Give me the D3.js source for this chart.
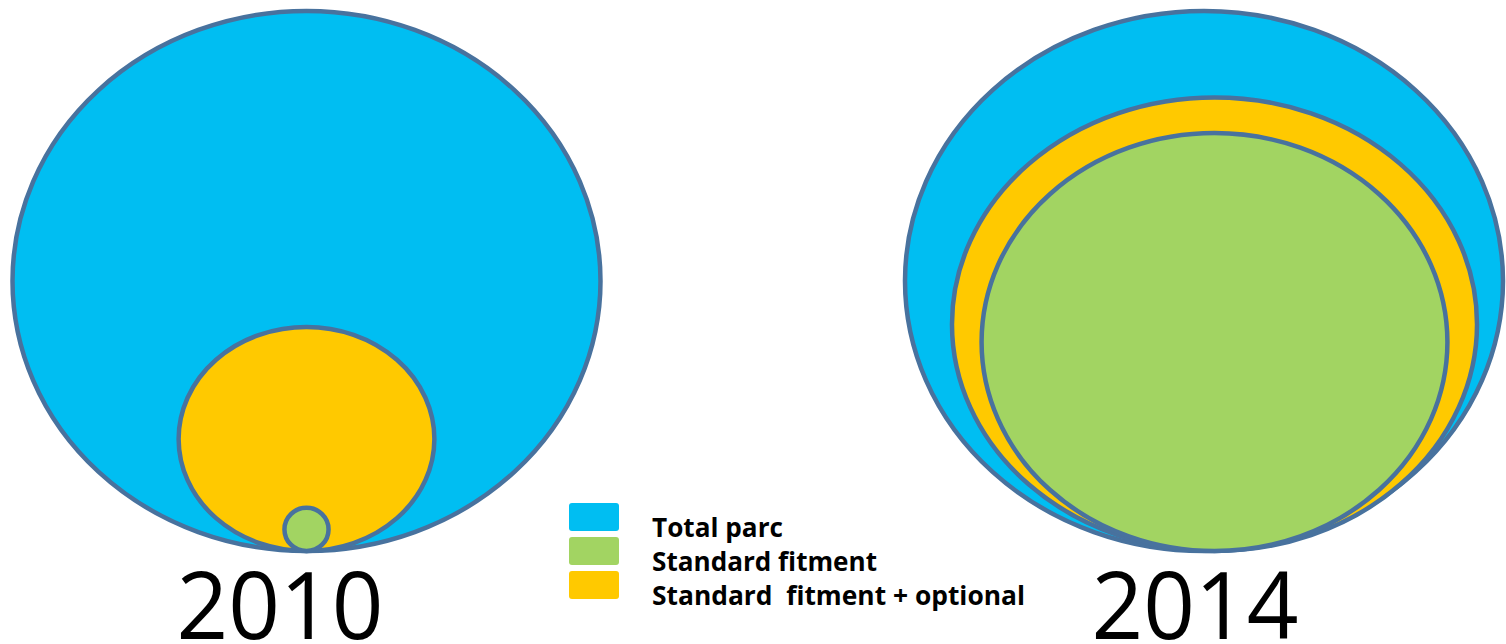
<!DOCTYPE html>
<html lang="en">
<head>
    <meta charset="UTF-8">
    <title>Total parc vs fitment, 2010 and 2014</title>
    <script src="https://d3js.org/d3.v7.min.js"></script>
    <style>
        body {
            margin: 0;
            padding: 0;
            background: #fff;
        }
        svg {
            display: block;
        }
        .year {
            font-family: "Open Sans", sans-serif;
            font-size: 94px;
            fill: #000;
        }
        .legend text {
            font-family: "Open Sans", sans-serif;
            font-weight: 700;
            font-size: 27px;
            fill: #000;
            white-space: pre;
        }
    </style>
</head>
<body>
    <svg width="1506" height="644"></svg>

    <script>
        // data: size of each group relative to the total parc ellipse (%)
        const years = ["2010", "2014"];
        const categories = ["Total parc", "Standard  fitment + optional", "Standard fitment"];
        const legendLabels = ["Total parc", "Standard fitment", "Standard  fitment + optional"];
        const widthShare2010 = [100, 43.5, 7.5];
        const heightShare2010 = [100, 41.5, 8.0];
        const widthShare2014 = [100, 87.8, 77.9];
        const heightShare2014 = [100, 84.0, 77.4];

        const widthShares = { "2010": widthShare2010, "2014": widthShare2014 };
        const heightShares = { "2010": heightShare2010, "2014": heightShare2014 };

        const colors = {
            "Total parc": "#00BEF2",
            "Standard fitment": "#A2D462",
            "Standard  fitment + optional": "#FFC900"
        };
        const strokeColor = "#48729E";

        // layout of each panel (pixels)
        const panels = {
            "2010": { cx: 306.5, rx: 294, ry: 270, shift: 0, labelX: 280 },
            "2014": { cx: 1204, rx: 299, ry: 270, shift: 10.5, labelX: 1195 }
        };
        const bottom = 551;

        const svg = d3.select("svg");

        years.forEach(year => {
            const p = panels[year];
            const rxScale = d3.scaleLinear().domain([0, 100]).range([0, p.rx]);
            const ryScale = d3.scaleLinear().domain([0, 100]).range([0, p.ry]);

            const rows = categories.map((c, i) => ({
                name: c,
                rx: rxScale(widthShares[year][i]),
                ry: ryScale(heightShares[year][i]),
                inner: i > 0
            }));

            const g = svg.append("g").attr("class", "panel-" + year);

            g.selectAll("ellipse")
                .data(rows)
                .enter().append("ellipse")
                .attr("cx", d => p.cx + (d.inner ? p.shift : 0))
                .attr("cy", d => bottom - d.ry)
                .attr("rx", d => d.rx)
                .attr("ry", d => d.ry)
                .attr("fill", d => colors[d.name])
                .attr("stroke", strokeColor)
                .attr("stroke-width", 4.5);

            g.append("text")
                .attr("class", "year")
                .attr("x", p.labelX)
                .attr("y", 639)
                .attr("text-anchor", "middle")
                .attr("textLength", 207)
                .attr("lengthAdjust", "spacingAndGlyphs")
                .text(year);
        });

        // legend
        const legendWidths = [131, 225, 373];
        const legend = svg.append("g").attr("class", "legend");
        const rowY = d3.scaleLinear().domain([0, 1]).range([503, 537]);

        legend.selectAll("rect")
            .data(legendLabels)
            .enter().append("rect")
            .attr("x", 569)
            .attr("y", (d, i) => rowY(i))
            .attr("width", 50)
            .attr("height", 28)
            .attr("rx", 3)
            .attr("fill", d => colors[d]);

        legend.selectAll("text")
            .data(legendLabels)
            .enter().append("text")
            .attr("x", 652)
            .attr("y", (d, i) => rowY(i) + 34)
            .attr("textLength", (d, i) => legendWidths[i])
            .attr("lengthAdjust", "spacingAndGlyphs")
            .text(d => d);
    </script>
</body>
</html>
